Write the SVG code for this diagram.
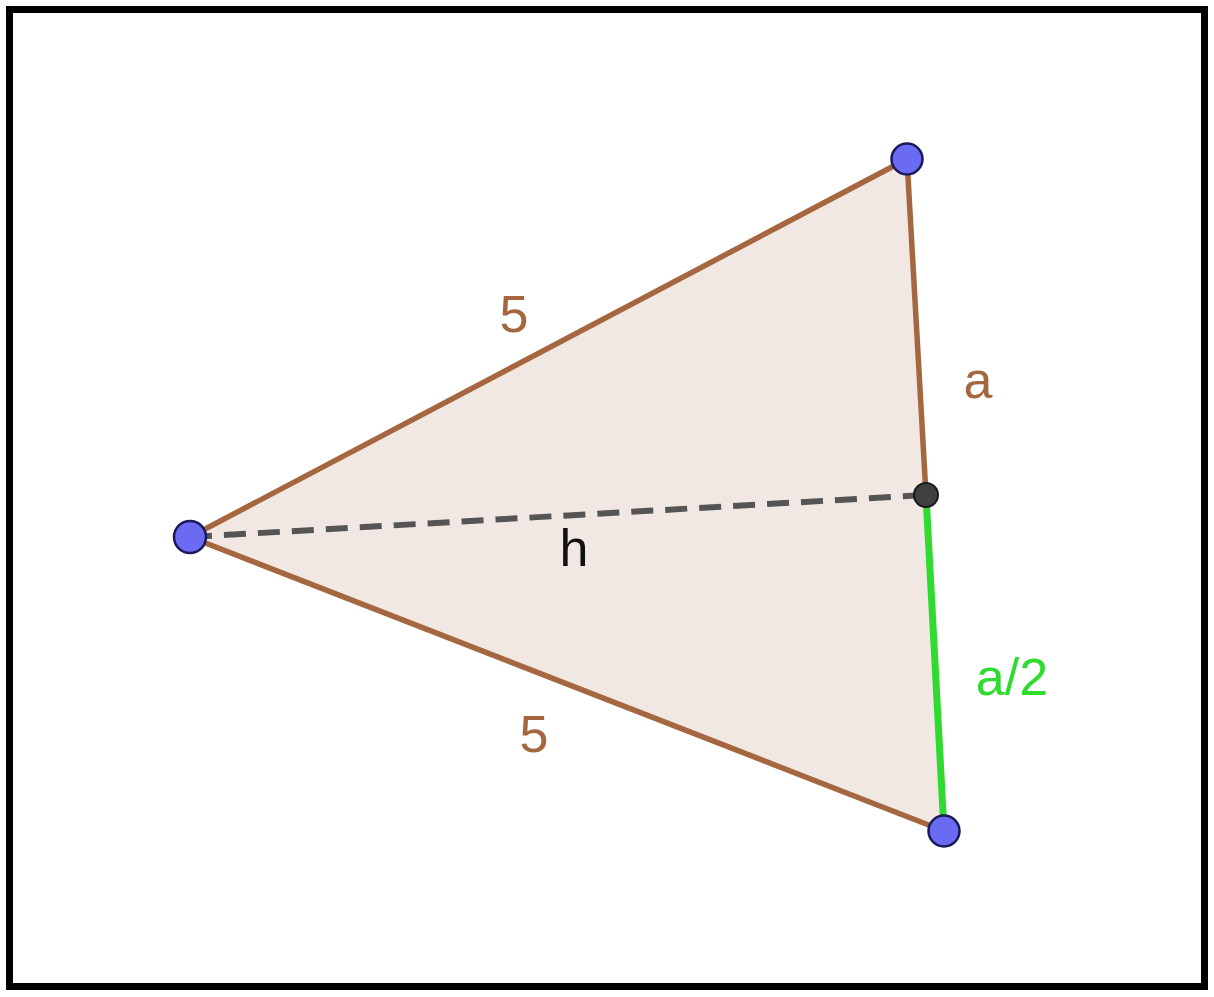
<svg xmlns="http://www.w3.org/2000/svg" width="1214" height="997" viewBox="0 0 1214 997">
<style>
.edge{stroke:#a5673f;stroke-width:5.5;fill:none;stroke-linecap:round}
.lbl{font-family:"Liberation Sans",Arial,sans-serif;font-size:52px;text-anchor:middle}
.pt{fill:#6a6af2;stroke:#1a1a5a;stroke-width:2.5}
</style>
<rect x="0" y="0" width="1214" height="997" fill="#ffffff"/>
<rect x="9.5" y="9.5" width="1195" height="977" fill="#ffffff" stroke="#000" stroke-width="7"/>
<g id="triangle">
<polygon points="190,537 907,159 944,831" fill="#f2e8e3" stroke="none"/>
</g>
<g id="connectors">
<line class="edge" x1="190" y1="537" x2="907" y2="159"/>
<line class="edge" x1="190" y1="537" x2="944" y2="831"/>
<line class="edge" x1="907" y1="159" x2="926" y2="495"/>
<line x1="926" y1="495" x2="944" y2="831" stroke="#2edb2e" stroke-width="7"/>
<line x1="190" y1="537" x2="926" y2="495" stroke="#555555" stroke-width="6" stroke-dasharray="22,12"/>
</g>
<g id="labels">
<text class="lbl" x="514" y="332" fill="#a5673f">5</text>
<text class="lbl" x="534" y="752" fill="#a5673f">5</text>
<text class="lbl" x="978" y="398" fill="#a5673f">a</text>
<text class="lbl" x="574" y="566" fill="#111">h</text>
<text class="lbl" x="1012" y="695" fill="#2edb2e">a/2</text>
</g>
<g id="pointA"><circle class="pt" cx="190" cy="537" r="16"/></g>
<g id="pointB"><circle class="pt" cx="907" cy="159" r="15.5"/></g>
<g id="pointC"><circle class="pt" cx="944" cy="831" r="15.5"/></g>
<g id="pointM"><circle cx="926" cy="495" r="12" fill="#404040" stroke="#1a1a1a" stroke-width="2"/></g>
</svg>
